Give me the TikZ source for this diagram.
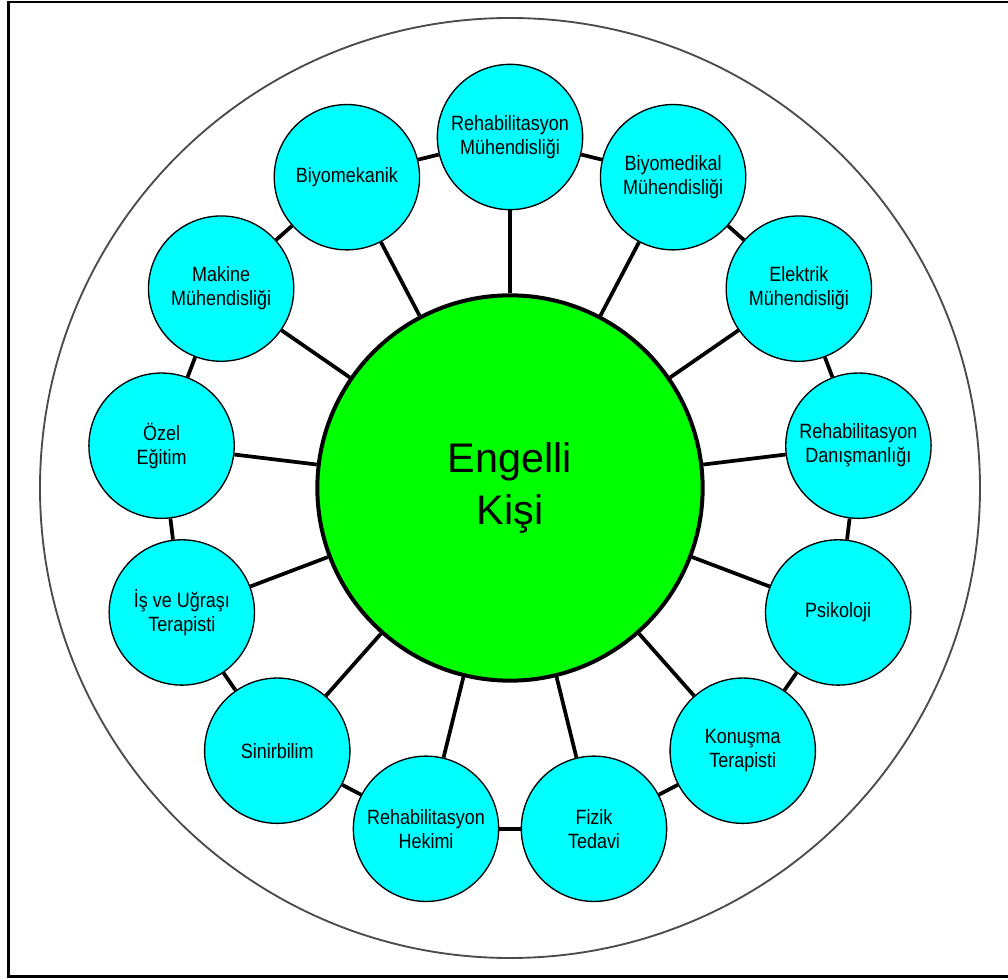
\documentclass[tikz,border=0pt]{standalone}
\usepackage{fontspec}
\setmainfont{Liberation Sans}
\newfontfamily\narrowfont[FakeStretch=0.87]{Liberation Sans}
\definecolor{aqua}{RGB}{0,255,255}
\definecolor{lime}{RGB}{0,255,0}
\begin{document}
\begin{tikzpicture}[x=0.75pt,y=-0.75pt,
  hub/.style={circle,draw=black,line width=3pt,fill=lime,minimum size=289pt,inner sep=0pt,align=center,font=\fontsize{31}{39}\selectfont},
  field/.style={circle,draw=black,line width=1pt,fill=aqua,minimum size=109pt,inner sep=0pt,align=center,font=\narrowfont\fontsize{15.5}{18}\selectfont},
  link/.style={line width=2.8pt}]
\useasboundingbox (0,0) rectangle (1008,980);
\draw[line width=1.7pt] (8.5,2) rectangle (1040,976.5);
\draw[line width=1.4pt, black!70] (510,488) circle[radius=470];
\node[hub] (hub) at (510,488) {Engelli\\Kişi};
\foreach \i/\t in {0/{Rehabilitasyon\\Mühendisliği},1/{Biyomedikal\\Mühendisliği},2/{Elektrik\\Mühendisliği},3/{Rehabilitasyon\\Danışmanlığı},4/{Psikoloji},5/{Konuşma\\Terapisti},6/{Fizik\\Tedavi},7/{Rehabilitasyon\\Hekimi},8/{Sinirbilim},9/{İş ve Uğraşı\\Terapisti},10/{Özel\\Eğitim},11/{Makine\\Mühendisliği},12/{Biyomekanik}}{
  \node[field] (n\i) at ({510+351*cos(90-\i*360/13)},{488-351*sin(90-\i*360/13)}) {\t};
}
\foreach \i in {0,...,12}{
  \pgfmathtruncatemacro\j{mod(\i+1,13)}
  \draw[link] (hub) -- (n\i);
  \draw[link] (n\i) -- (n\j);
}
\end{tikzpicture}
\end{document}
